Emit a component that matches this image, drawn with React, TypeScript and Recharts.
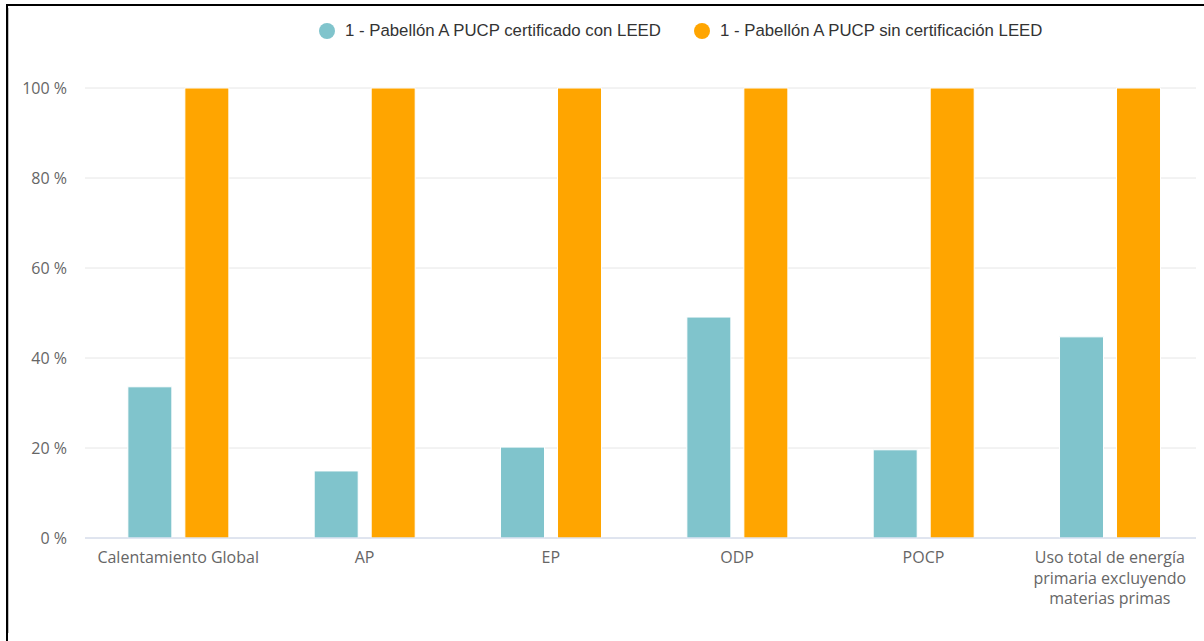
import React from "react";
import { BarChart, Bar, XAxis, YAxis, CartesianGrid, Legend, Text } from "recharts";

const categories = ["Calentamiento Global", "AP", "EP", "ODP", "POCP", "Uso total de energía primaria excluyendo materias primas"];
const certificado = [33.6, 14.9, 20.2, 49.1, 19.6, 44.7];
const sinCertificacion = [100, 100, 100, 100, 100, 100];
const yTicks = [0, 20, 40, 60, 80, 100];
const seriesNames = ["1 - Pabellón A PUCP certificado con LEED", "1 - Pabellón A PUCP sin certificación LEED"];
const colors = ["#80c4cc", "#ffa500"];

const data = categories.map((c, i) => ({ name: c, a: certificado[i], b: sinCertificacion[i] }));

const TICK_FONT = "'Open Sans', 'DejaVu Sans', sans-serif";

const XTick = (props: any) => {
  const { x, y, payload } = props;
  return (
    <Text
      x={x}
      y={y + 6}
      width={180}
      textAnchor="middle"
      verticalAnchor="start"
      lineHeight={20.5}
      fill="#666666"
      style={{ fontFamily: TICK_FONT, fontSize: 16 }}
    >
      {payload.value}
    </Text>
  );
};

const LegendContent = () => (
  <div style={{ position: "relative", width: 1204, height: 24, fontFamily: "'Liberation Sans', Arial, sans-serif", fontSize: 16.8, color: "#333333" }}>
    {seriesNames.map((n, i) => (
      <div key={n} style={{ position: "absolute", left: i === 0 ? 319 : 694, top: 0, display: "flex", alignItems: "center", height: 24, whiteSpace: "nowrap" }}>
        <span style={{ display: "inline-block", width: 16, height: 16, borderRadius: 8, background: colors[i], marginRight: 10 }} />
        <span>{n}</span>
      </div>
    ))}
  </div>
);

export default function App() {
  return (
    <div style={{ position: "relative", width: 1204, height: 641, margin: -8, background: "#fff", overflow: "hidden" }}>
      <BarChart
        width={1204}
        height={641}
        data={data}
        margin={{ top: 64, right: 1, left: 8, bottom: 53 }}
        barCategoryGap="23%"
        barGap={13}
      >
        <CartesianGrid vertical={false} stroke="#e6e6e6" />
        <XAxis
          dataKey="name"
          interval={0}
          tick={<XTick />}
          tickLine={false}
          axisLine={{ stroke: "#ccd6eb" }}
          height={50}
        />
        <YAxis
          domain={[0, 100]}
          ticks={yTicks}
          tickFormatter={(v: number) => `${v} %`}
          tick={{ fill: "#666666", fontSize: 16, fontFamily: TICK_FONT }}
          tickLine={false}
          axisLine={false}
          width={77}
          tickMargin={12}
        />
        <Legend verticalAlign="top" content={<LegendContent />} wrapperStyle={{ top: 19, left: 0, width: 1204 }} />
        <Bar dataKey="a" name={seriesNames[0]} fill={colors[0]} stroke="#ffffff" strokeWidth={1} isAnimationActive={false} />
        <Bar dataKey="b" name={seriesNames[1]} fill={colors[1]} stroke="#ffffff" strokeWidth={1} isAnimationActive={false} />
        <path d="M7 641 V5 H1204" stroke="#000000" strokeWidth={2.5} fill="none" />
      </BarChart>
      <div style={{ position: "fixed", left: 6, top: 4, width: 2, height: 637, background: "#000", zIndex: 10 }} />
      <div style={{ position: "fixed", left: 6, top: 4, width: 1198, height: 2, background: "#000", zIndex: 10 }} />
    </div>
  );
}
